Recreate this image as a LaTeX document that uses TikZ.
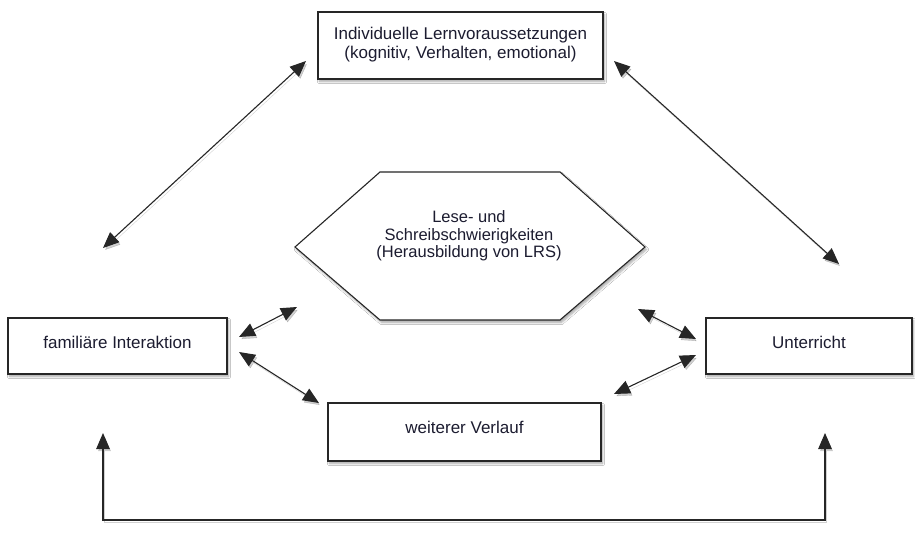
\documentclass[tikz,border=0pt]{standalone}
\usepackage{fontspec}
\setmainfont{Liberation Sans}
\usetikzlibrary{arrows.meta,shadows.blur}
\definecolor{ink}{HTML}{1C1C30}
\tikzset{
  softshadow/.style={blur shadow={shadow xshift=1.5pt, shadow yshift=-2.5pt,
    shadow blur steps=6, shadow opacity=35}},
  box/.style={draw=black!85, line width=1.1pt, fill=white, rectangle, softshadow,
    font=\fontsize{17}{19.5}\selectfont, text=ink, align=center, inner sep=0pt},
  link/.style={line width=1.1pt, draw=black!85,
    {Triangle[length=16pt,width=13.5pt]}-{Triangle[length=16pt,width=13.5pt]},
    preaction={draw=black, draw opacity=0.18, fill opacity=0.18,
      transform canvas={shift={(1.5pt,-2.5pt)}}}}
}
\begin{document}
\begin{tikzpicture}[x=1pt,y=-1pt]
\useasboundingbox[fill=white] (0,0) rectangle (915,538);

% boxes
\node[box, minimum width=285pt, minimum height=67pt, text depth=5pt] (lern) at (460.5,45.5)
  {Individuelle Lernvoraussetzungen\\(kognitiv, Verhalten, emotional)};
\node[box, minimum width=219pt, minimum height=56pt, text depth=8pt] (fam) at (117.5,346)
  {familiäre Interaktion};
\node[box, minimum width=206pt, minimum height=56pt, text depth=8pt] (unt) at (809,346)
  {Unterricht};
\node[box, minimum width=273pt, minimum height=58pt, text depth=9pt] (verl) at (464.5,432)
  {weiterer Verlauf};

% central hexagon
\draw[line width=1.1pt, draw=black!85, fill=white, softshadow]
  (295,247) -- (380,172) -- (560,172) -- (645,247) -- (560,320) -- (380,320) -- cycle;
\node[font=\fontsize{16.5}{17.5}\selectfont, text=ink, align=center] (lrs) at (469,236)
  {Lese- und\\Schreibschwierigkeiten\\(Herausbildung von LRS)};

% connector end points
\coordinate (a1) at (103,248);  \coordinate (a2) at (306,61);
\coordinate (b1) at (614,61);   \coordinate (b2) at (839,264);
\coordinate (c1) at (239,337);  \coordinate (c2) at (297,307);
\coordinate (d1) at (239,352);  \coordinate (d2) at (319,403);
\coordinate (e1) at (638,309);  \coordinate (e2) at (696,339);
\coordinate (f1) at (614,394);  \coordinate (f2) at (696,355);
\coordinate (g1) at (103,433);  \coordinate (g2) at (825,433);

% connectors
\draw[link] (a1) -- (a2);
\draw[link] (b1) -- (b2);
\draw[link] (c1) -- (c2);
\draw[link] (d1) -- (d2);
\draw[link] (e1) -- (e2);
\draw[link] (f1) -- (f2);
\draw[link] (g1) |- (464,520) -| (g2);
\end{tikzpicture}
\end{document}
